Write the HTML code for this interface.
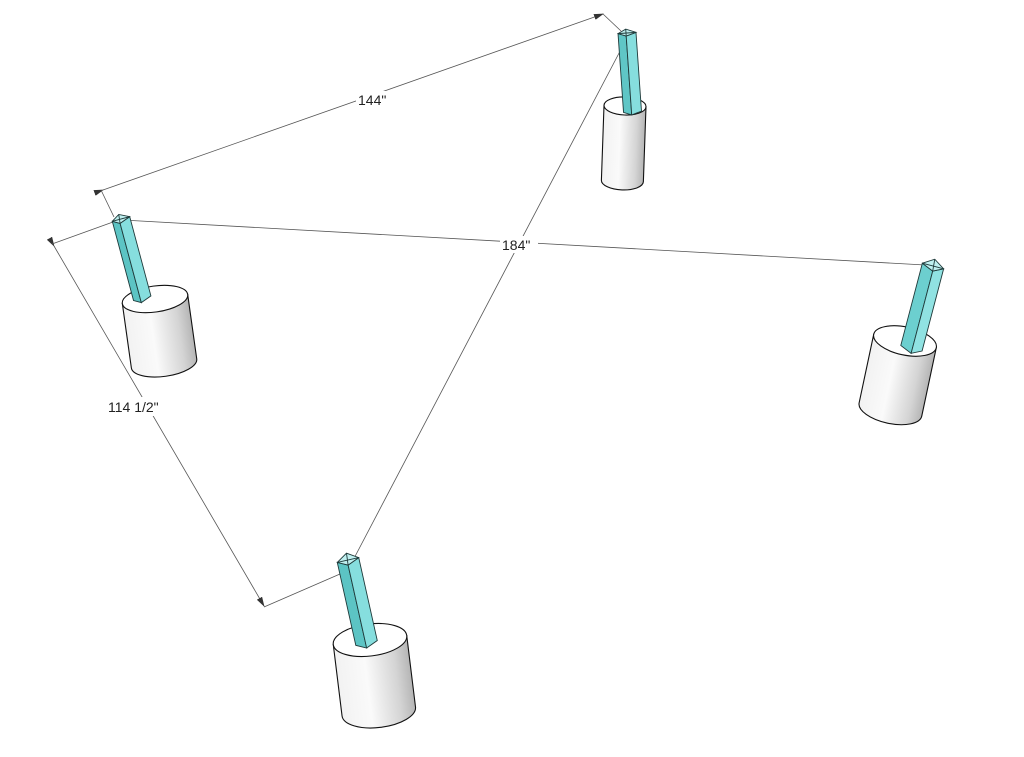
<!DOCTYPE html>
<html><head><meta charset="utf-8"><style>
html,body{margin:0;padding:0;background:#fff;width:1024px;height:757px;overflow:hidden}
svg{display:block}
text{font-family:"Liberation Sans",sans-serif;font-size:14px;fill:#222}
</style></head><body>
<svg width="1024" height="757" viewBox="0 0 1024 757" xmlns="http://www.w3.org/2000/svg">
<defs>
<linearGradient id="cyl" x1="0" x2="1" y1="0" y2="0">
<stop offset="0" stop-color="#f2f2f2"/><stop offset="0.4" stop-color="#fafafa"/><stop offset="0.8" stop-color="#d4d4d4"/><stop offset="1" stop-color="#b5b5b5"/>
</linearGradient>
<marker id="ar" markerWidth="10" markerHeight="6" refX="9" refY="3" orient="auto" markerUnits="userSpaceOnUse">
<path d="M0,0 L10,3 L0,6 Z" fill="#333"/></marker>
</defs>
<g stroke="#555" stroke-width="0.8" fill="none">
<line x1="103" y1="190" x2="603" y2="14" marker-start="url(#ar)" marker-end="url(#ar)"/>
<line x1="101" y1="190" x2="114" y2="217"/>
<line x1="603" y1="14" x2="621" y2="31"/>
<line x1="122" y1="220" x2="925" y2="265"/>
<line x1="54" y1="246" x2="264" y2="606" marker-start="url(#ar)" marker-end="url(#ar)"/>
<line x1="52" y1="244" x2="113" y2="222"/>
<line x1="264" y1="607" x2="340" y2="574"/>
<line x1="628" y1="36" x2="350" y2="566"/>
</g>
<rect x="356" y="91" width="38" height="17" fill="#fff"/>
<text x="358" y="105">144"</text>
<rect x="500" y="236" width="38" height="17" fill="#fff"/>
<text x="502" y="250">184"</text>
<rect x="106" y="397" width="60" height="19" fill="#fff"/>
<text x="108" y="412">114 1/2"</text>

<g stroke="#111" stroke-width="1.1">
<g transform="translate(625,106) rotate(2)">
<path d="M-21,0 L-21,75 A21 9 0 0 0 21,75 L21,0 Z" fill="url(#cyl)"/>
<ellipse cx="0" cy="0" rx="21" ry="9" fill="#fff"/>
</g>
<g transform="translate(155,299) rotate(-8)">
<path d="M-33,0 L-33,65 A33 13 0 0 0 33,65 L33,0 Z" fill="url(#cyl)"/>
<ellipse cx="0" cy="0" rx="33" ry="13" fill="#fff"/>
</g>
<g transform="translate(370,640) rotate(-7)">
<path d="M-37,0 L-37,72 A37 16 0 0 0 37,72 L37,0 Z" fill="url(#cyl)"/>
<ellipse cx="0" cy="0" rx="37" ry="16" fill="#fff"/>
</g>
<g transform="translate(905,341) rotate(12)">
<path d="M-32,0 L-32,70 A32 14 0 0 0 32,70 L32,0 Z" fill="url(#cyl)"/>
<ellipse cx="0" cy="0" rx="32" ry="14" fill="#fff"/>
</g>
</g>

<g stroke="#1f3a3a" stroke-width="0.9">
<g transform="translate(627,33) rotate(-4)">
<polygon points="-9,0 -1,3 -1,82 -9,79" fill="#5fc6c6"/>
<polygon points="-1,3 9,0 9,79 -1,82" fill="#86dede"/>
<polygon points="-9,0 -1,-4 9,0 -1,3" fill="#bff0f0"/>
<path d="M-9,0 L9,0 M-1,-4 L-1,3" />
</g>
<g transform="translate(121,219) rotate(-15)">
<polygon points="-9,0 -2,4 -2,86 -9,82" fill="#5cc4c4"/>
<polygon points="-2,4 9,0 9,82 -2,86" fill="#86dede"/>
<polygon points="-9,0 -1,-5 9,0 -2,4" fill="#bff0f0"/>
<path d="M-9,0 L9,0 M-1,-5 L-2,4"/>
</g>
<g transform="translate(348,560) rotate(-12.6)">
<polygon points="-11,0 -1,5 -1,90 -11,85" fill="#5cc4c4"/>
<polygon points="-1,5 11,0 11,85 -1,90" fill="#86dede"/>
<polygon points="-11,0 0,-7 11,0 -1,5" fill="#bff0f0"/>
<path d="M-11,0 L11,0 M0,-7 L-1,5"/>
</g>
<g transform="translate(933,266) rotate(14.7)">
<polygon points="-11,0 1,5 1,90 -11,85" fill="#6ccfcf"/>
<polygon points="1,5 11,0 11,85 1,90" fill="#90e2e2"/>
<polygon points="-11,0 0,-7 11,0 1,5" fill="#bff0f0"/>
<path d="M-11,0 L11,0 M0,-7 L1,5"/>
</g>
</g>
</svg>
</body></html>
